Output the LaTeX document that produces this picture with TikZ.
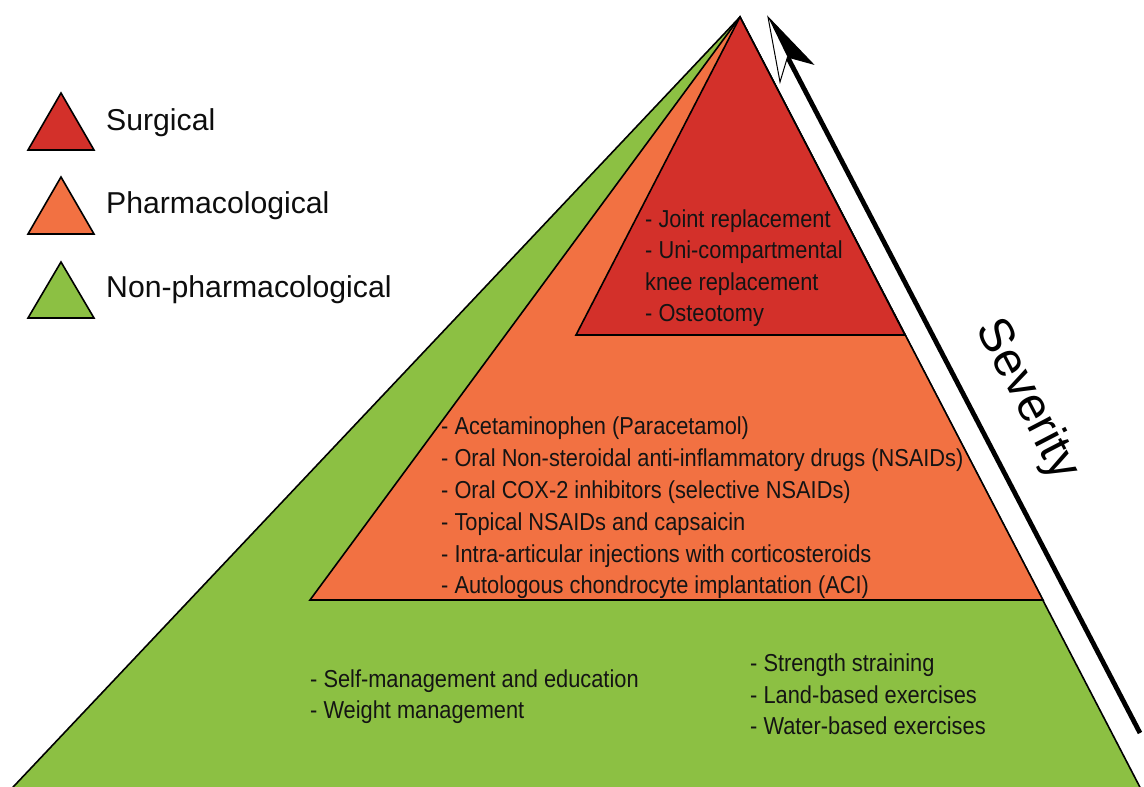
\documentclass[tikz,border=0pt]{standalone}
\usepackage{fontspec}
\setmainfont{Liberation Sans}
\newfontfamily\narrowfont[FakeStretch=0.89]{Liberation Sans}
\definecolor{surg}{HTML}{D3302A}
\definecolor{pharm}{HTML}{F27142}
\definecolor{nonph}{HTML}{8CC043}
\begin{document}
\begin{tikzpicture}[x=1pt,y=-1pt,
  tri/.style={draw=black,line width=1.6pt,line join=miter},
  item/.style={anchor=base west,inner sep=0pt,text=black!92,
    font=\narrowfont\fontsize{24.5}{30}\selectfont},
  legtext/.style={anchor=base west,inner sep=0pt,text=black!95,
    font=\fontsize{30.2}{36}\selectfont},
  sevtext/.style={inner sep=0pt,text=black,font=\fontsize{48}{56}\selectfont}]
\useasboundingbox (0,0) rectangle (1144,787);
% pyramid
\coordinate (apex) at (740,17);
\coordinate (gL) at (10.3,790);
\coordinate (gR) at (1141.4,790);
\coordinate (oL) at (310,600);
\coordinate (oR) at (1043,600);
\coordinate (rL) at (576,335);
\coordinate (rR) at (905,335);
\draw[tri,fill=nonph] (apex) -- (gL) -- (gR) -- cycle;
\draw[tri,fill=pharm] (apex) -- (oL) -- (oR) -- cycle;
\draw[tri,fill=surg] (apex) -- (rL) -- (rR) -- cycle;
% legend
\draw[tri,fill=surg] (28,150) -- (94,150) -- (61,93) -- cycle;
\draw[tri,fill=pharm] (28,234) -- (94,234) -- (61,177) -- cycle;
\draw[tri,fill=nonph] (28,318) -- (94,318) -- (61,262) -- cycle;
\node[legtext] (l1) at (106,130) {Surgical};
\node[legtext] (l2) at (106,213) {Pharmacological};
\node[legtext] (l3) at (106,297) {Non-pharmacological};
% surgical items
\node[item] (r1) at (645,227) {- Joint replacement};
\node[item] (r2) at (645,258.5) {- Uni-compartmental};
\node[item] (r3) at (645,290) {knee replacement};
\node[item] (r4) at (645,321.5) {- Osteotomy};
% pharmacological items
\node[item] (o1) at (441,434) {- Acetaminophen (Paracetamol)};
\node[item] (o2) at (441,466) {- Oral Non-steroidal anti-inflammatory drugs (NSAIDs)};
\node[item] (o3) at (441,498) {- Oral COX-2 inhibitors (selective NSAIDs)};
\node[item] (o4) at (441,530) {- Topical NSAIDs and capsaicin};
\node[item] (o5) at (441,562) {- Intra-articular injections with corticosteroids};
\node[item] (o6) at (441,593.5) {- Autologous chondrocyte implantation (ACI)};
% non-pharmacological items
\node[item] (g1) at (310,687) {- Self-management and education};
\node[item] (g2) at (310,718) {- Weight management};
\node[item] (g3) at (750,671) {- Strength straining};
\node[item] (g4) at (750,703) {- Land-based exercises};
\node[item] (g5) at (750,734) {- Water-based exercises};
% severity arrow
\coordinate (sB) at (1140,733);
\coordinate (sT) at (768,17);
\coordinate (sN) at (787.5,57);
\coordinate (sL) at (780,82);
\coordinate (sR) at (813,64);
\draw[line width=4.8pt] (sB) -- (sN);
\fill[white] (sT) -- (sL) -- (sN) -- cycle;
\fill[black] (sT) -- (sN) -- (sR) -- cycle;
\draw[line width=1pt,line join=miter] (sT) -- (sL) -- (sN) -- (sR) -- cycle;
\node[sevtext,rotate=-62.5] (sev) at (1027,400) {Severity};
\end{tikzpicture}
\end{document}
